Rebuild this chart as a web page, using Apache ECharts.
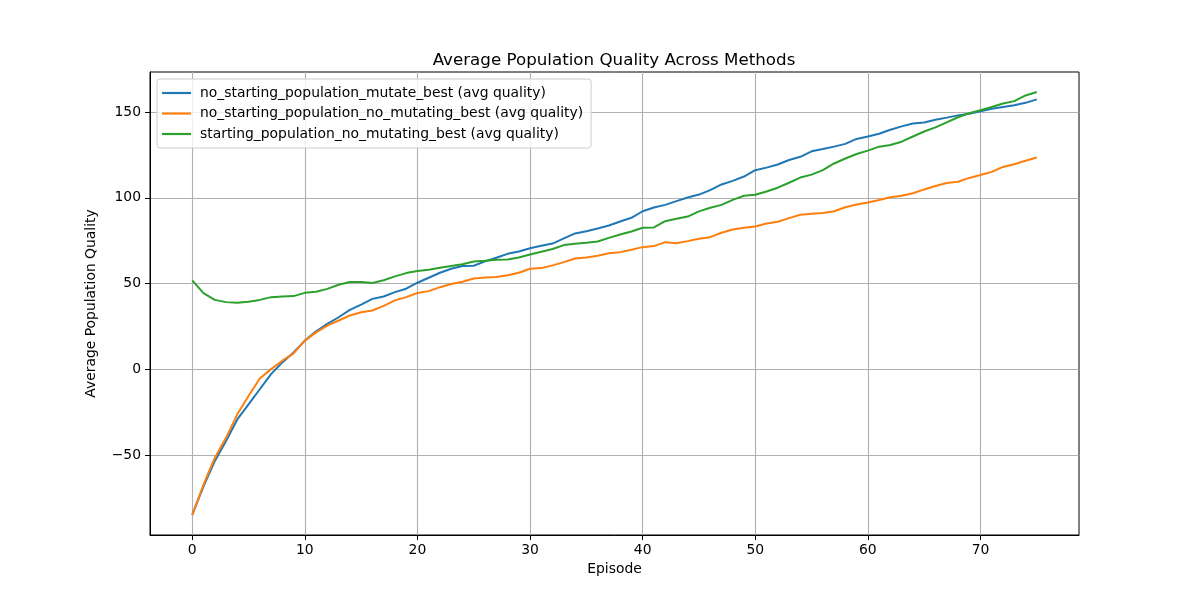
<!DOCTYPE html>
<html>
<head>
<meta charset="utf-8">
<script src="https://cdn.jsdelivr.net/npm/echarts@6/dist/echarts.min.js"></script>
<style>html,body{margin:0;padding:0;background:#fff}#c{width:1200px;height:600px}</style>
</head>
<body>
<div id="c"></div>
<script>
const episodes = Array.from({length: 76}, (_, i) => i);
const xTicks = [0, 10, 20, 30, 40, 50, 60, 70];
const yTicks = [-50, 0, 50, 100, 150];
const seriesNames = [
  'no_starting_population_mutate_best (avg quality)',
  'no_starting_population_no_mutating_best (avg quality)',
  'starting_population_no_mutating_best (avg quality)'
];
const mutateBest = [
  -84.5, -68, -53.3, -41.6, -29, -20.2, -11.4, -2.6, 4.2, 10,
  16.9, 22.3, 26.6, 30.5, 34.8, 37.9, 41.2, 42.6, 45.1, 47.1,
  50.6, 53.5, 56.4, 58.7, 60.3, 60.5, 63, 65.1, 67.4, 68.8,
  70.7, 72.1, 73.4, 76.4, 79.3, 80.6, 82.2, 83.9, 86.2, 88.4,
  92.2, 94.4, 95.9, 98.1, 100.2, 101.9, 104.5, 107.8, 109.9, 112.4,
  116.1, 117.6, 119.4, 122, 123.9, 127.1, 128.4, 129.8, 131.4, 134.3,
  135.7, 137.3, 139.6, 141.6, 143.3, 143.9, 145.5, 146.7, 148, 149,
  150.4, 151.8, 152.9, 153.9, 155.3, 157.3
];
const noMutatingBest = [
  -84.5, -67, -51.4, -39.7, -26, -15.3, -5.2, 0.3, 5.2, 9.5,
  16.9, 21.7, 25.6, 28.6, 31.5, 33.4, 34.4, 37.1, 40.3, 42.2,
  44.6, 45.7, 48, 49.8, 51.2, 53.1, 53.7, 53.9, 55, 56.4,
  58.7, 59.1, 60.7, 62.6, 64.7, 65.3, 66.3, 67.8, 68.4, 69.8,
  71.3, 71.9, 74.2, 73.6, 74.8, 76.2, 77.1, 79.7, 81.6, 82.6,
  83.3, 85.1, 86.1, 88.2, 90.2, 90.8, 91.2, 92.2, 94.5, 96.1,
  97.3, 98.8, 100.4, 101.2, 102.7, 104.9, 106.9, 108.6, 109.4, 111.6,
  113.3, 115.1, 118, 119.6, 121.6, 123.5
];
const startingPop = [
  52, 44.5, 40.6, 39.3, 39, 39.5, 40.6, 42.2, 42.6, 42.8,
  44.7, 45.3, 47, 49.4, 51, 51, 50.4, 52, 54.3, 56.2,
  57.4, 58.1, 59.3, 60.3, 61.4, 63, 63.4, 64, 64.1, 65.3,
  67, 68.6, 70.2, 72.5, 73.3, 73.8, 74.6, 76.7, 78.7, 80.4,
  82.6, 82.8, 86.4, 87.8, 89.1, 92.1, 94.2, 95.9, 98.8, 101.2,
  101.8, 103.7, 105.9, 108.8, 111.8, 113.5, 116.1, 120, 122.9, 125.5,
  127.5, 129.8, 130.8, 132.7, 135.7, 138.6, 141, 143.9, 146.9, 149.2,
  151, 152.9, 154.9, 156.3, 159.6, 161.6
];
const colors = ['#1f77b4', '#ff7f0e', '#2ca02c'];
const seriesData = [mutateBest, noMutatingBest, startingPop];

const font = 'DejaVu Sans';
const chart = echarts.init(document.getElementById('c'), null, {renderer: 'canvas'});
const fmt = v => (v < 0 ? '\u2212' + Math.abs(v) : String(v));
chart.setOption({
  animation: false,
  backgroundColor: '#fff',
  title: {
    text: 'Average Population Quality Across Methods',
    left: 609, top: 47, textAlign: 'center',
    textStyle: {fontFamily: font, fontSize: 16.7, fontWeight: 'normal', color: '#000'}
  },
  legend: {
    orient: 'vertical', left: 157, top: 79,
    padding: [7, 8, 7, 5],
    itemGap: 6.5, itemWidth: 29, itemHeight: 2.2,
    icon: 'rect',
    backgroundColor: 'rgba(255,255,255,0.8)',
    borderColor: '#cccccc', borderWidth: 1, borderRadius: 3,
    textStyle: {fontFamily: font, fontSize: 13.9, color: '#000', padding: [0, 0, 0, 4]},
    data: seriesNames
  },
  grid: {left: 150, right: 121, top: 72, bottom: 65, show: true, borderColor: '#000', borderWidth: 1, backgroundColor: 'transparent'},
  xAxis: {
    type: 'value', min: -3.75, max: 78.75,
    name: 'Episode', nameLocation: 'middle', nameGap: 27,
    nameTextStyle: {fontFamily: font, fontSize: 13.9, color: '#000'},
    axisLine: {show: true, onZero: false, lineStyle: {color: '#000', width: 1}},
    axisTick: {show: true, length: 5, customValues: xTicks, lineStyle: {color: '#000'}},
    axisLabel: {customValues: xTicks, margin: 8, fontFamily: font, fontSize: 13.9, color: '#000', formatter: fmt},
    splitLine: {show: true, lineStyle: {color: '#b0b0b0', width: 1.1}}
  },
  yAxis: {
    type: 'value', min: -96.25, max: 173.25,
    name: 'Average Population Quality', nameLocation: 'middle', nameGap: 52, nameRotate: 90,
    nameTextStyle: {fontFamily: font, fontSize: 13.9, color: '#000'},
    axisLine: {show: true, onZero: false, lineStyle: {color: '#000', width: 1}},
    axisTick: {show: true, length: 5, customValues: yTicks, lineStyle: {color: '#000'}},
    axisLabel: {customValues: yTicks, margin: 9, fontFamily: font, fontSize: 13.9, color: '#000', formatter: fmt},
    splitLine: {show: true, lineStyle: {color: '#b0b0b0', width: 1.1}}
  },
  series: seriesNames.map((n, k) => ({
    name: n, type: 'line', symbol: 'none',
    data: episodes.map((e, i) => [e, seriesData[k][i]]),
    lineStyle: {color: colors[k], width: 2},
    itemStyle: {color: colors[k]}
  }))
});
</script>
</body>
</html>
